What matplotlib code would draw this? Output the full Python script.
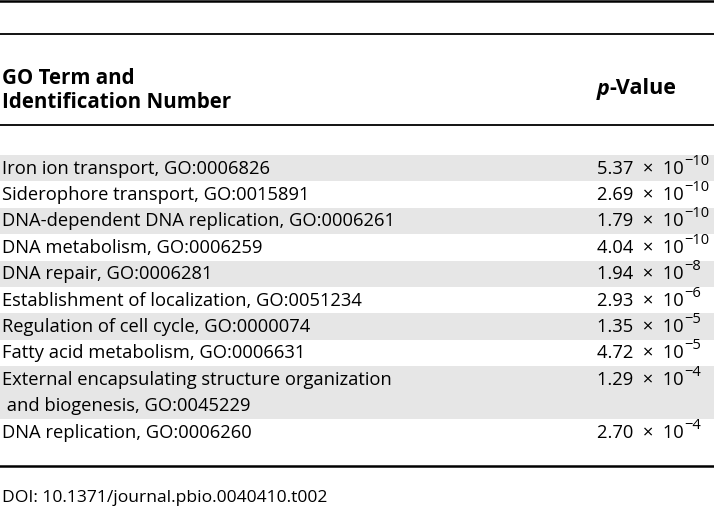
import matplotlib
matplotlib.use('Agg')
import matplotlib.pyplot as plt

plt.rcParams['font.family'] = ['Open Sans', 'DejaVu Sans']

# table content
terms = ['Iron ion transport', 'Siderophore transport', 'DNA-dependent DNA replication',
         'DNA metabolism', 'DNA repair', 'Establishment of localization',
         'Regulation of cell cycle', 'Fatty acid metabolism',
         'External encapsulating structure organization\n and biogenesis',
         'DNA replication']
go_ids = ['GO:0006826', 'GO:0015891', 'GO:0006261', 'GO:0006259', 'GO:0006281',
          'GO:0051234', 'GO:0000074', 'GO:0006631', 'GO:0045229', 'GO:0006260']
mantissas = ['5.37', '2.69', '1.79', '4.04', '1.94', '2.93', '1.35', '4.72', '1.29', '2.70']
exponents = [-10, -10, -10, -10, -8, -6, -5, -5, -4, -4]

header_left = ['GO Term and', 'Identification Number']
doi = 'DOI: 10.1371/journal.pbio.0040410.t002'

W, H = 714, 520
fig = plt.figure(figsize=(W / 100, H / 100), dpi=100)
ax = fig.add_axes([0, 0, 1, 1])
ax.set_xlim(0, W)
ax.set_ylim(H, 0)
ax.axis('off')

fs = 13.2
line_h = 26.4
top = 155
x_left = 2
x_val = 597

# rules
ax.axhline(1, color='black', lw=1.8)
ax.axhline(34, color='black', lw=1.3)
ax.axhline(125, color='black', lw=1.3)
ax.axhline(466, color='black', lw=1.8)

# header
for k, line in enumerate(header_left):
    ax.text(x_left, 78 + k * 25, line, fontsize=14.8, fontweight='bold', va='center', ha='left')
p_txt = ax.text(x_val, 89, 'p', fontsize=15.5, fontweight='bold', fontstyle='italic',
                va='center', ha='left')
ax.annotate('-Value', xy=(1, 0.5), xycoords=p_txt, fontsize=15.5, fontweight='bold',
            va='center', ha='left')

y = top
for i, (t, g, m, e) in enumerate(zip(terms, go_ids, mantissas, exponents)):
    lines = f'{t}, {g}'.split('\n')
    h = len(lines) * line_h
    if i % 2 == 0:
        ax.axhspan(y, y + h, color='#e6e6e6', lw=0, zorder=0)
    for k, line in enumerate(lines):
        ax.text(x_left, y + k * line_h + line_h / 2 + 0.5, line, fontsize=fs,
                va='center', ha='left')
    main = ax.text(x_val, y + line_h / 2 + 0.5, f'{m}  \u00d7  10', fontsize=fs,
                   va='center', ha='left')
    ax.annotate(f'\u2212{abs(e)}', xy=(1, 0.5), xycoords=main, xytext=(0.3, 5.5),
                textcoords='offset points', fontsize=10.5, va='center', ha='left')
    y += h

ax.text(x_left, 498, doi, fontsize=12.6, va='center', ha='left')

fig.savefig('out.png', dpi=100)
